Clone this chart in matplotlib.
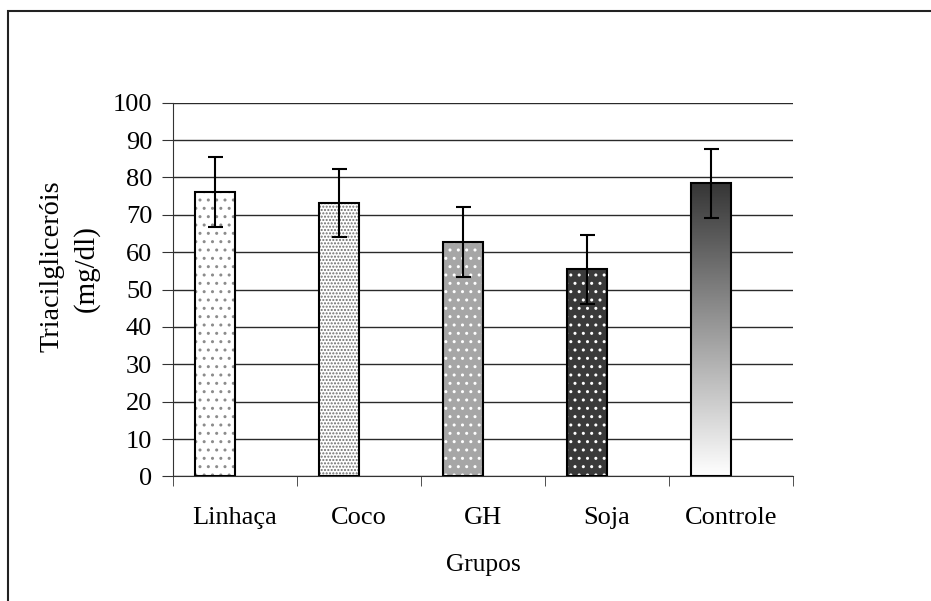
import numpy as np
import matplotlib.pyplot as plt
from matplotlib.patches import Rectangle
from matplotlib.transforms import Bbox, TransformedBbox
from matplotlib.colors import LinearSegmentedColormap

grupos = ['Linhaça', 'Coco', 'GH', 'Soja', 'Controle']
medias = [76.2, 73.1, 62.8, 55.4, 78.4]
erros = [9.4, 9.1, 9.4, 9.3, 9.3]

plt.rcParams['font.family'] = ['Liberation Serif', 'DejaVu Serif']
fs = 19

fig = plt.figure(figsize=(9.31, 6.01), dpi=100)
ax = fig.add_axes([0.1858, 0.2072, 0.666, 0.6219])

x = np.arange(len(grupos))
w = 0.323
faces = ['white', 'white', '#a6a6a6', '#3a3a3a', 'none']
hatches = ['..', '.....', '..', '..', None]
hcolors = ['#8c8c8c', '#6e6e6e', 'white', 'white', None]

bars = ax.bar(x, medias, width=-w, align='edge', color=faces, edgecolor='none', zorder=2)
for b, h, hc in zip(bars, hatches, hcolors):
    if h:
        ax.add_patch(Rectangle(b.get_xy(), b.get_width(), b.get_height(), fill=False,
                               hatch=h, edgecolor=hc, linewidth=0, zorder=3))

# gradiente no controle
b = bars[-1]
cmap = LinearSegmentedColormap.from_list('g', ['white', '#353535'])
grad = np.linspace(0, 1, 256).reshape(-1, 1)
im = ax.imshow(grad, cmap=cmap, origin='lower', aspect='auto', zorder=2,
               extent=[b.get_x(), b.get_x() + b.get_width(), 0, b.get_height()])
im.set_clip_path(b)

ax.bar(x, medias, width=-w, align='edge', fill=False, edgecolor='black', linewidth=1.5, zorder=4)
ax.errorbar(x - w / 2, medias, yerr=erros, fmt='none', ecolor='black', elinewidth=1.5,
            capsize=5.4, capthick=1.5, zorder=5)

ax.set_xlim(-0.5, 4.5)
ax.set_ylim(0, 100)
ax.set_yticks(np.arange(0, 101, 10))
ax.yaxis.grid(True, color='#2a2a2a', linewidth=1)
ax.set_axisbelow(True)
for s in ['top', 'right']:
    ax.spines[s].set_visible(False)
ax.spines['left'].set_color('#333333')
ax.spines['bottom'].set_color('#333333')

ax.set_xticks(x)
ax.set_xticklabels(grupos)
ax.set_xticks(np.arange(-0.5, 4.6, 1), minor=True)
ax.tick_params(axis='x', which='major', length=0, pad=22, labelsize=fs)
ax.tick_params(axis='x', which='minor', length=7, direction='out', color='#333333')
ax.tick_params(axis='y', length=8, direction='out', pad=7, labelsize=fs, color='#333333')
ax.set_xlabel('Grupos', fontsize=fs * 0.96, labelpad=18)

# rotulo do eixo y (primeira linha cortada no topo, como no original)
t1 = fig.text(52 / 931, 1 - 352 / 601, 'Triacilgliceróis', rotation=90,
              ha='center', va='bottom', fontsize=fs * 1.07)
t1.set_clip_box(TransformedBbox(Bbox.from_extents(0, 0, 1, 1 - 183 / 601), fig.transFigure))
t1.set_clip_on(True)
fig.text(86 / 931, 1 - 269 / 601, '(mg/dl)', rotation=90,
         ha='center', va='center', fontsize=fs * 1.1)

fig.add_artist(Rectangle((8 / 931, -0.1), 1.2, 1.1 - 10.5 / 601, fill=False,
                         edgecolor='#222222', linewidth=1.5, transform=fig.transFigure))

fig.savefig('out.png', dpi=100)
